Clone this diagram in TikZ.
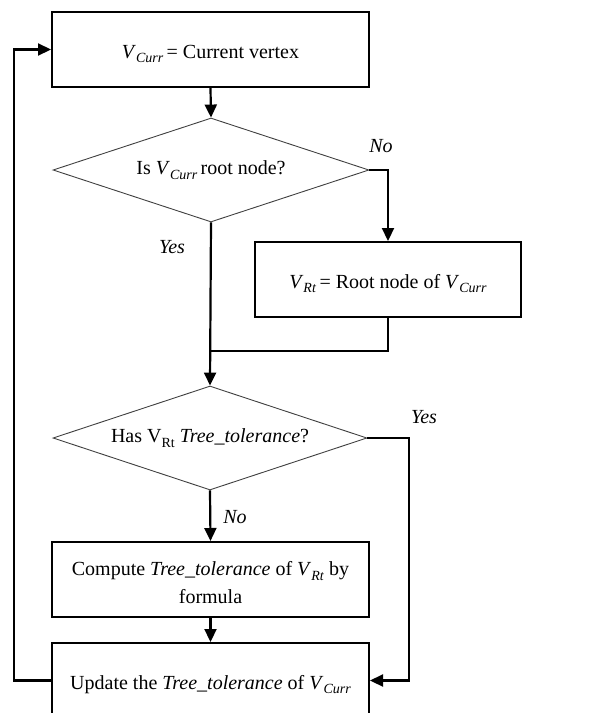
\documentclass[tikz,border=0pt]{standalone}
\usepackage{fontspec}
\setmainfont{Liberation Serif}
\usetikzlibrary{shapes.geometric,arrows.meta}

% italic variable with italic subscript, and an upright variant
\newcommand{\varsub}[2]{\textit{#1}\raisebox{-0.5ex}{\fontsize{14}{16}\selectfont\textit{#2}}}
\newcommand{\uprsub}[2]{#1\raisebox{-0.5ex}{\fontsize{14}{16}\selectfont #2}}

\tikzset{
  procbox/.style={draw=black, line width=2pt, minimum width=317pt, minimum height=75pt,
                  inner sep=0pt, align=center, font=\fontsize{20}{28}\selectfont},
  oneline/.style={text height=17pt, text depth=0pt},
  decision/.style={draw=black!75, line width=0.9pt, diamond, shape aspect=3.04,
                   minimum width=316pt, minimum height=104pt, inner sep=0pt,
                   font=\fontsize{20}{24}\selectfont},
  flow/.style={line width=2.2pt, -{Triangle[length=13pt,width=12pt]}},
  plain/.style={line width=2.2pt},
  branch/.style={font=\fontsize{20}{24}\selectfont\itshape}
}

\begin{document}
\begin{tikzpicture}[x=1pt,y=-1pt]
  \useasboundingbox (0,0) rectangle (592,713);
  \clip (0,0) rectangle (592,713);

  % process and decision steps
  \node[procbox, oneline] (b1) at (210.5,49.5) {\varsub{V}{Curr}\,= Current vertex};
  \node[decision] (d1) at (211,170) {Is \varsub{V}{Curr}\,root node?};
  \node[procbox, oneline, minimum width=266pt] (b2) at (388,279.5) {\varsub{V}{Rt}\,= Root node of \varsub{V}{Curr}};
  \node[decision, minimum width=314pt] (d2) at (210,438) {Has \uprsub{V}{Rt} \textit{Tree\_tolerance}?};
  \node[procbox] (b3) at (210.5,579.5)
       {\rule{0pt}{20pt}Compute \textit{Tree\_tolerance} of \varsub{V}{Rt} by\\formula};
  \node[procbox, oneline] (b4) at (210.5,680.5) {Update the \textit{Tree\_tolerance} of \varsub{V}{Curr}};

  % helper points for the routed connectors
  \coordinate (merge) at (211,351);
  \coordinate (rside) at (409,438);
  \coordinate (lside) at (14,680.5);

  % connectors
  \draw[flow] (b1.south) -- (d1.north);
  \draw[flow] (d1.east) -| (b2.north);
  \draw[plain] (b2.south) |- (merge);
  \draw[flow] (d1.south) -- (d2.north);
  \draw[flow] (d2.south) -- (b3.north);
  \draw[flow] (b3.south) -- (b4.north);
  \draw[flow] (d2.east) -- (rside) |- (b4.east);
  \draw[flow] (b4.west) -- (lside) |- (b1.west);

  % branch labels
  \node[branch] (lno1) at (381,146) {No};
  \node[branch] (lyes1) at (172,247) {Yes};
  \node[branch] (lyes2) at (424,417) {Yes};
  \node[branch] (lno2) at (235,517) {No};
\end{tikzpicture}
\end{document}
